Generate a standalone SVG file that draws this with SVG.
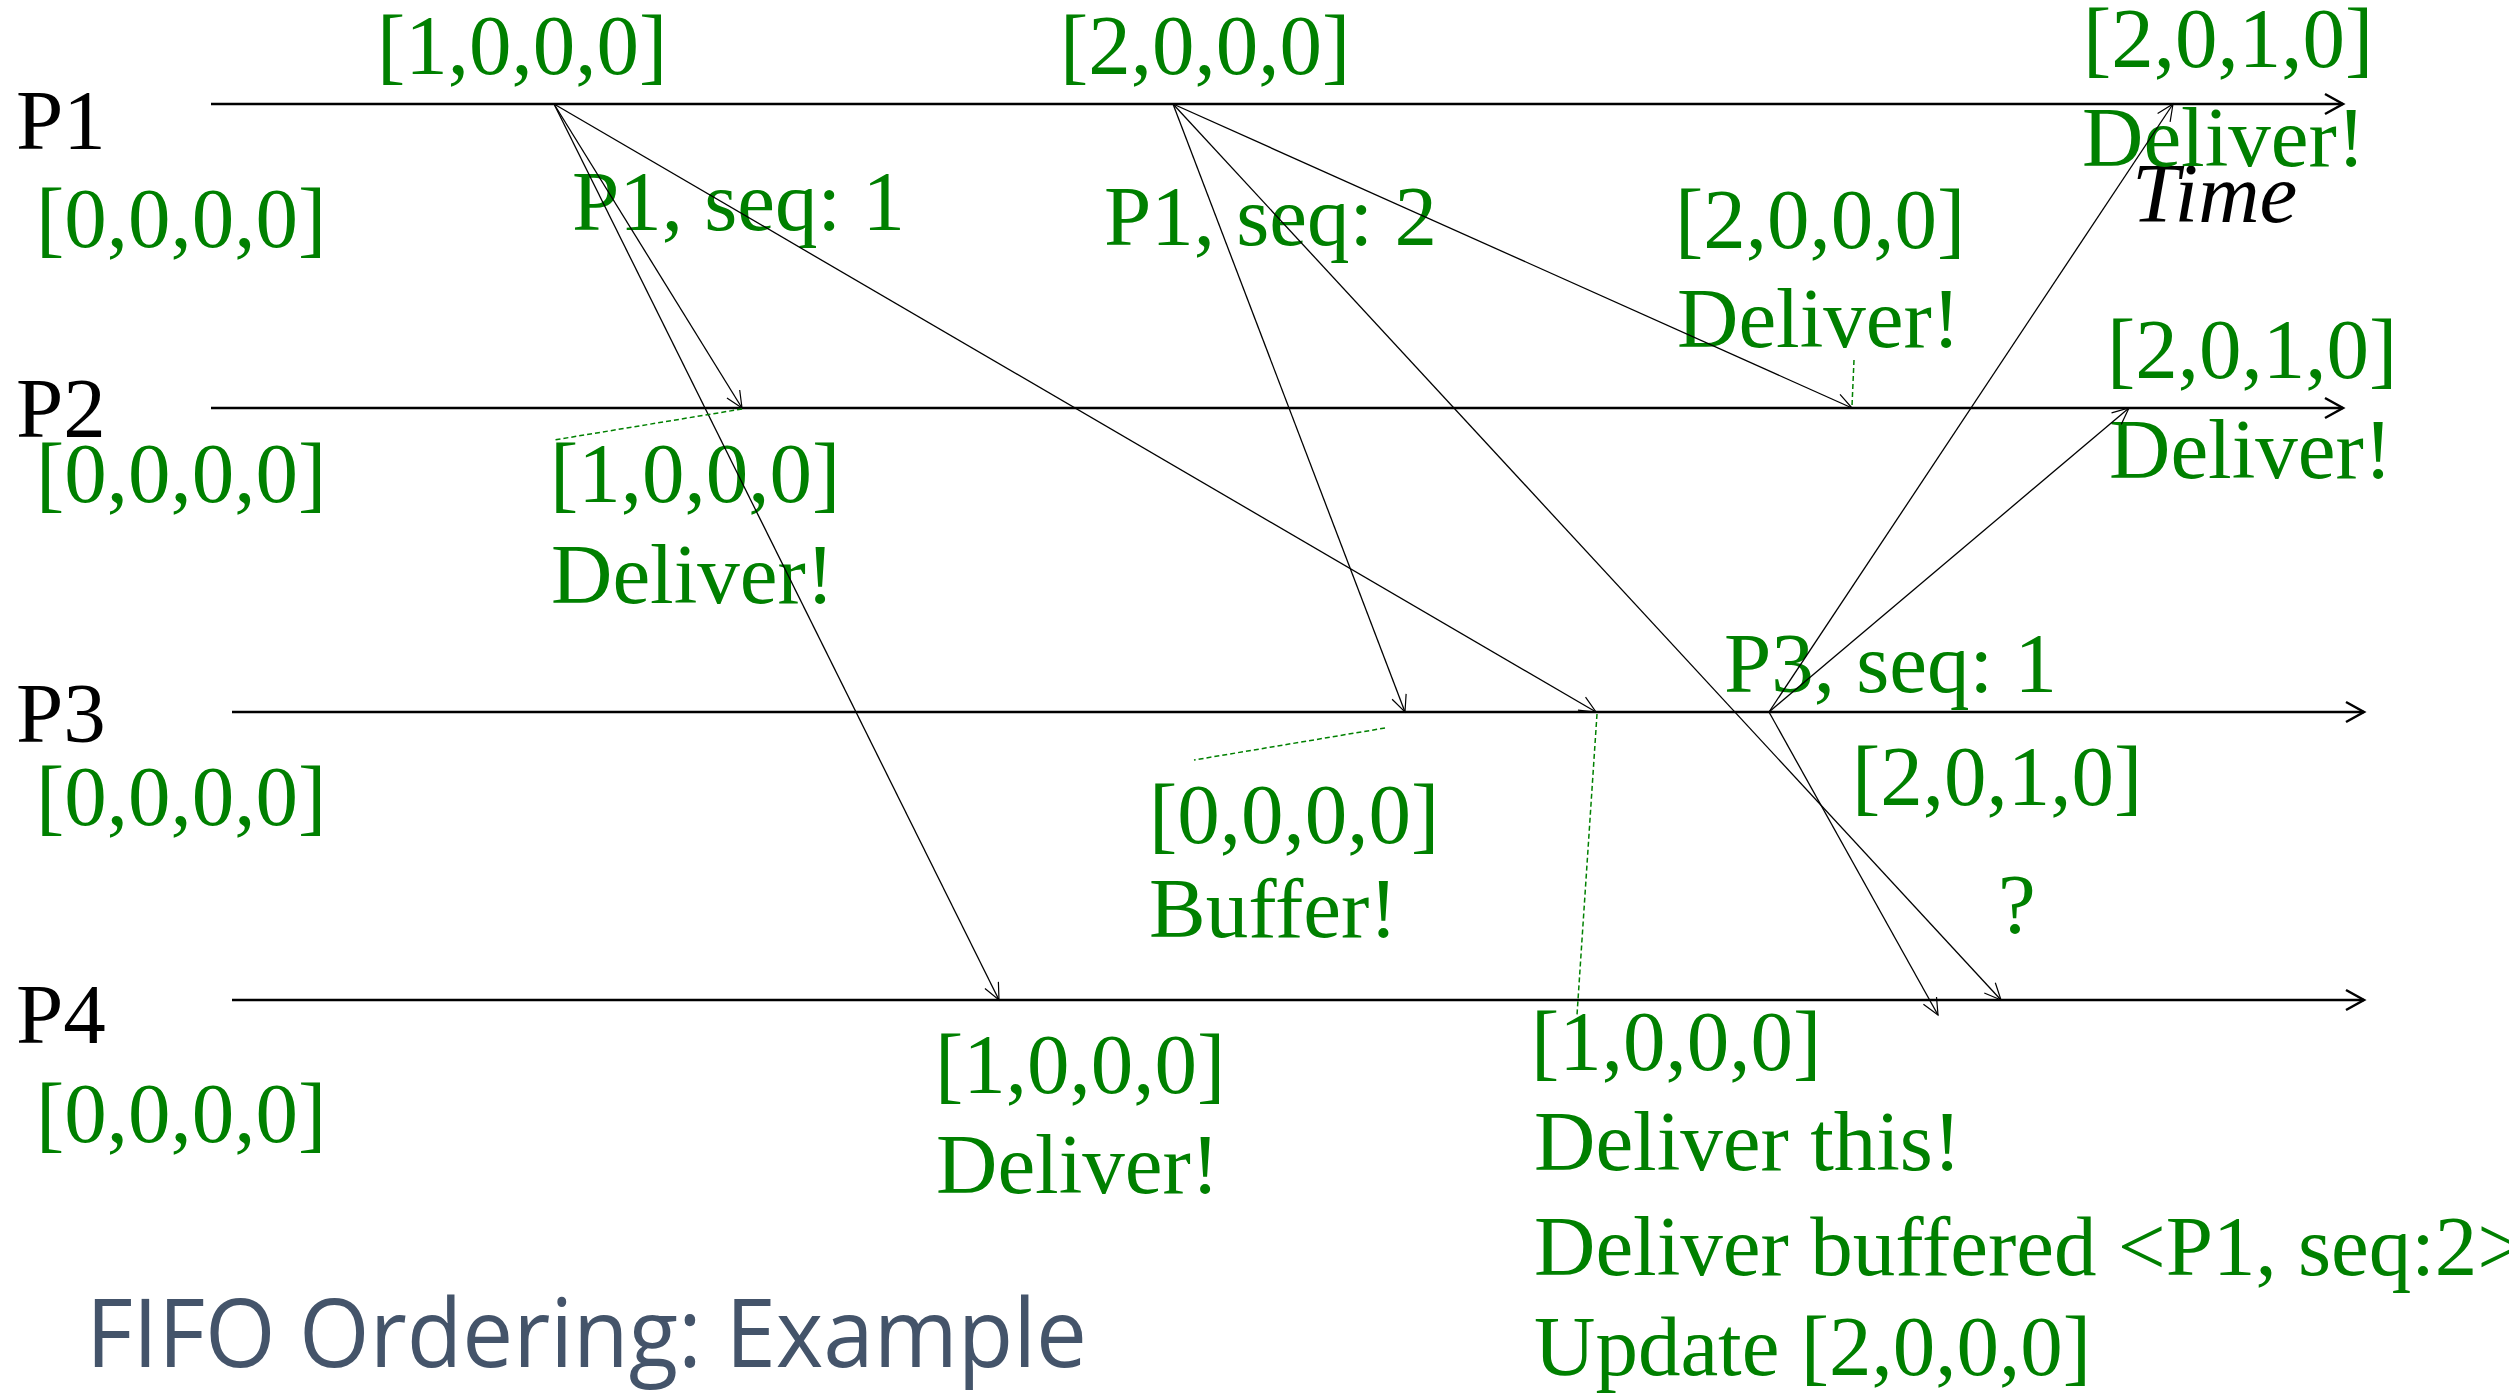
<svg xmlns="http://www.w3.org/2000/svg" width="2509" height="1394" viewBox="0 0 2509 1394">
  <style>
    .serif { font-family: "Liberation Serif", "Times New Roman", serif; font-size: 85px; }
    .proc { fill: #000000; }
    .note { fill: #008000; }
    .time { fill: #000000; font-style: italic; }
    .axis { stroke: #000000; stroke-width: 2.4; fill: none; marker-end: url(#axisHead); }
    .msg { stroke: #000000; stroke-width: 1.3; fill: none; marker-end: url(#msgHead); }
    .lead { stroke: #008000; stroke-width: 1.5; stroke-dasharray: 5 3; fill: none; }
    .title { font-family: "Open Sans", "Noto Sans", "Liberation Sans", sans-serif; font-size: 96px; fill: #44546A; }
  </style>
  <defs>
    <marker id="axisHead" markerUnits="userSpaceOnUse" markerWidth="30" markerHeight="30" viewBox="-22 -15 30 30" refX="0" refY="0" orient="auto" overflow="visible">
      <path d="M-18,-10 L0,0 L-18,10" fill="none" stroke="#000000" stroke-width="2.5"/>
    </marker>
    <marker id="msgHead" markerUnits="userSpaceOnUse" markerWidth="30" markerHeight="30" viewBox="-20 -15 30 30" refX="0" refY="0" orient="auto" overflow="visible">
      <path d="M-16.5,-7.5 L0,0 L-16.5,7.5" fill="none" stroke="#000000" stroke-width="1.2"/>
    </marker>
  </defs>

  <rect x="0" y="0" width="2509" height="1394" fill="#ffffff"/>

  <!-- process timelines -->
  <g id="p1" class="serif">
    <line class="axis" x1="211" y1="104" x2="2343" y2="104"/>
    <text class="proc" x="16" y="149">P1</text>
    <text class="note" x="36" y="247">[0,0,0,0]</text>
  </g>
  <g id="p2" class="serif">
    <line class="axis" x1="211" y1="408" x2="2343" y2="408"/>
    <text class="proc" x="16" y="437">P2</text>
    <text class="note" x="36" y="502">[0,0,0,0]</text>
  </g>
  <g id="p3" class="serif">
    <line class="axis" x1="232" y1="712" x2="2364" y2="712"/>
    <text class="proc" x="16" y="742">P3</text>
    <text class="note" x="36" y="825">[0,0,0,0]</text>
  </g>
  <g id="p4" class="serif">
    <line class="axis" x1="232" y1="1000" x2="2364" y2="1000"/>
    <text class="proc" x="16" y="1043">P4</text>
    <text class="note" x="36" y="1142">[0,0,0,0]</text>
  </g>

  <g id="time-label" class="serif">
    <text class="time" x="2132" y="222">Time</text>
  </g>

  <!-- send events -->
  <g id="p1-send-1" class="serif">
    <text class="note" x="377" y="74">[1,0,0,0]</text>
    <text class="note" x="572" y="230">P1, seq: 1</text>
  </g>
  <g id="p1-send-2" class="serif">
    <text class="note" x="1060" y="74">[2,0,0,0]</text>
    <text class="note" x="1104" y="245">P1, seq: 2</text>
  </g>
  <g id="p3-send-1" class="serif">
    <text class="note" x="1724" y="692">P3, seq: 1</text>
    <text class="note" x="1852" y="805">[2,0,1,0]</text>
  </g>

  <!-- receive events -->
  <g id="p2-recv-1" class="serif">
    <text class="note" x="550" y="502">[1,0,0,0]</text>
    <text class="note" x="551" y="603">Deliver!</text>
  </g>
  <g id="p2-recv-2" class="serif">
    <text class="note" x="1675" y="248">[2,0,0,0]</text>
    <text class="note" x="1677" y="347">Deliver!</text>
  </g>
  <g id="p2-recv-3" class="serif">
    <text class="note" x="2107" y="378">[2,0,1,0]</text>
    <text class="note" x="2109" y="478">Deliver!</text>
  </g>
  <g id="p1-recv-3" class="serif">
    <text class="note" x="2083" y="67">[2,0,1,0]</text>
    <text class="note" x="2082" y="166">Deliver!</text>
  </g>
  <g id="p3-recv-2" class="serif">
    <text class="note" x="1149" y="843">[0,0,0,0]</text>
    <text class="note" x="1149" y="937">Buffer!</text>
  </g>
  <g id="p3-recv-1" class="serif">
    <text class="note" x="1531" y="1070">[1,0,0,0]</text>
    <text class="note" x="1534" y="1170">Deliver this!</text>
    <text class="note" x="1534" y="1275">Deliver buffered &lt;P1, seq:2&gt;</text>
    <text class="note" x="1534" y="1375">Update [2,0,0,0]</text>
  </g>
  <g id="p4-recv-1" class="serif">
    <text class="note" x="935" y="1093">[1,0,0,0]</text>
    <text class="note" x="936" y="1193">Deliver!</text>
  </g>
  <g id="p4-recv-pending" class="serif">
    <text class="note" x="1998" y="933">?</text>
  </g>

  <!-- messages and annotation leaders -->
  <g id="connectors">
    <line class="msg" x1="554" y1="104" x2="742" y2="408"/>
    <line class="msg" x1="554" y1="104" x2="999" y2="1000"/>
    <line class="msg" x1="554" y1="104" x2="1596" y2="712"/>
    <line class="msg" x1="1173" y1="104" x2="1405" y2="712"/>
    <line class="msg" x1="1173" y1="104" x2="1852" y2="408"/>
    <line class="msg" x1="1173" y1="104" x2="2001" y2="1000"/>
    <line class="msg" x1="1769" y1="712" x2="2173" y2="104"/>
    <line class="msg" x1="1769" y1="712" x2="2129" y2="408"/>
    <line class="msg" x1="1769" y1="712" x2="1938" y2="1015"/>

    <line class="lead" x1="742" y1="409" x2="554" y2="440"/>
    <line class="lead" x1="1385" y1="728" x2="1194" y2="760"/>
    <line class="lead" x1="1597" y1="714" x2="1577" y2="1015"/>
    <line class="lead" x1="1854" y1="360" x2="1852" y2="406"/>
  </g>

  <text class="title" x="86" y="1367" textLength="1001" lengthAdjust="spacingAndGlyphs">FIFO Ordering: Example</text>
</svg>
